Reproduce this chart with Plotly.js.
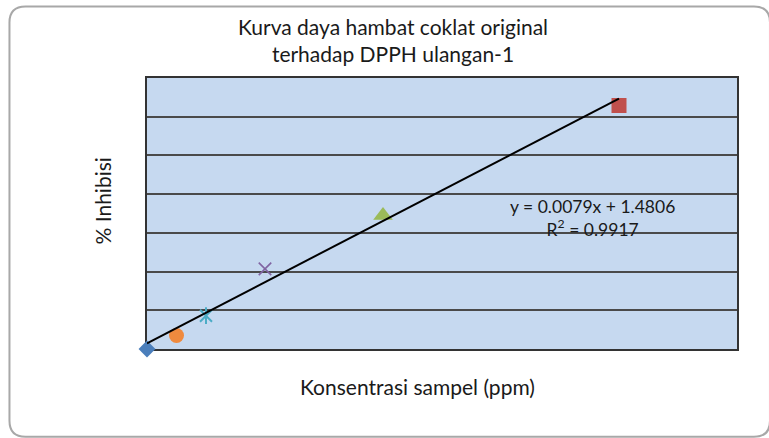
<!DOCTYPE html>
<html>
<head>
<meta charset="utf-8">
<script src="https://cdn.plot.ly/plotly-3.0.1.min.js"></script>
<style>
  html, body { margin: 0; padding: 0; background: #ffffff; }
  #chart { width: 769px; height: 438px; }
</style>
</head>
<body>
<div id="chart"></div>
<script>
// Sample concentrations (ppm) and measured inhibition (%)
const concentrations = [0, 500, 1000, 2000, 4000, 8000];
const inhibitions = [0, 3.5, 8.6, 20.7, 34.5, 62.9];

// Linear trendline reported for the series
const slope = 0.0079;
const intercept = 1.4806;
const rSquared = 0.9917;

// Marker look for each sample (one series per sample)
const markerStyles = [
  { symbol: 'diamond',     size: 13, color: '#4a7ebb', width: 0 },
  { symbol: 'circle',      size: 15, color: '#ef8a3e', width: 0 },
  { symbol: 'x-thin-open', size: 12, color: '#4bacc6', width: 2, extra: 'line-ns-open' },
  { symbol: 'x-thin-open', size: 12.5, color: '#8064a2', width: 1.6 },
  { symbol: 'triangle-up', size: 17, color: '#9bbb59', width: 0 },
  { symbol: 'square',      size: 15, color: '#c0504d', width: 0 }
];

const FONT = 'Lato, "Open Sans", sans-serif';
const TEXT = '#1a1a1a';

const traces = [];
concentrations.forEach((c, i) => {
  const s = markerStyles[i];
  const marker = { symbol: s.symbol, size: s.size, color: s.color };
  if (s.width) marker.line = { color: s.color, width: s.width };
  traces.push({
    type: 'scatter', mode: 'markers', x: [c], y: [inhibitions[i]],
    marker: marker, cliponaxis: false, showlegend: false, hoverinfo: 'skip'
  });
  if (s.extra) {
    // vertical stroke completing the star marker
    traces.push({
      type: 'scatter', mode: 'markers', x: [c], y: [inhibitions[i]],
      marker: { symbol: s.extra, size: s.size, color: s.color, line: { color: s.color, width: s.width } },
      cliponaxis: false, showlegend: false, hoverinfo: 'skip'
    });
  }
});

// Trendline across the sampled range
const xMin = Math.min(...concentrations);
const xMax = Math.max(...concentrations);
traces.push({
  type: 'scatter', mode: 'lines',
  x: [xMin, xMax],
  y: [slope * xMin + intercept, slope * xMax + intercept],
  line: { color: '#000000', width: 2 },
  cliponaxis: false, showlegend: false, hoverinfo: 'skip'
});

const equationText = 'y = ' + slope.toFixed(4) + 'x + ' + intercept.toFixed(4) +
  '<br>R<sup>2</sup> = ' + rSquared.toFixed(4);

// Rounded outer frame of the chart area, in paper units of the plot box
const L = 147, T = 78, W = 590, H = 271;
const px = v => ((v - L) / W).toFixed(4);
const py = v => ((T + H - v) / H).toFixed(4);
const fl = 9.5, ft = 6.5, fr = 770, fb = 436.8, rad = 16;
const framePath =
  'M' + px(fl) + ',' + py(ft + rad) +
  ' Q' + px(fl) + ',' + py(ft) + ' ' + px(fl + rad) + ',' + py(ft) +
  ' L' + px(fr - rad) + ',' + py(ft) +
  ' Q' + px(fr) + ',' + py(ft) + ' ' + px(fr) + ',' + py(ft + rad) +
  ' L' + px(fr) + ',' + py(fb - rad) +
  ' Q' + px(fr) + ',' + py(fb) + ' ' + px(fr - rad) + ',' + py(fb) +
  ' L' + px(fl + rad) + ',' + py(fb) +
  ' Q' + px(fl) + ',' + py(fb) + ' ' + px(fl) + ',' + py(fb - rad) + ' Z';

const layout = {
  width: 769, height: 438,
  margin: { l: L, r: 769 - L - W, t: T, b: 438 - T - H, pad: 0 },
  paper_bgcolor: '#ffffff',
  plot_bgcolor: '#c6d9f0',
  font: { family: FONT, color: TEXT },
  title: {
    text: 'Kurva daya hambat coklat original<br>terhadap DPPH ulangan-1',
    font: { family: FONT, size: 21, color: TEXT },
    xref: 'container', x: 393 / 769, xanchor: 'center',
    yref: 'container', y: 1 - 35 / 438, yanchor: 'top'
  },
  xaxis: {
    range: [0, 10000], showgrid: false, zeroline: false,
    showticklabels: false, ticks: '',
    showline: true, mirror: true, linecolor: '#333333', linewidth: 2.2,
    layer: 'below traces', fixedrange: true
  },
  yaxis: {
    range: [0, 70], dtick: 10, showgrid: true, gridcolor: '#4a4a4a', gridwidth: 2,
    zeroline: false, showticklabels: false, ticks: '',
    showline: true, mirror: true, linecolor: '#333333', linewidth: 2.2,
    layer: 'below traces', fixedrange: true
  },
  shapes: [{
    type: 'path', xref: 'paper', yref: 'paper', path: framePath,
    line: { color: '#a8a8a8', width: 2 }, fillcolor: 'rgba(0,0,0,0)', layer: 'below'
  }],
  annotations: [
    {
      text: 'Konsentrasi sampel (ppm)', showarrow: false,
      xref: 'paper', yref: 'paper', x: (417 - L) / W, y: (T + H - 386) / H,
      xanchor: 'center', yanchor: 'middle',
      font: { family: FONT, size: 21, color: TEXT }
    },
    {
      text: '% Inhibisi', showarrow: false, textangle: -90,
      xref: 'paper', yref: 'paper', x: (101.5 - L) / W, y: (T + H - 201) / H,
      xanchor: 'center', yanchor: 'middle',
      font: { family: FONT, size: 21, color: TEXT }
    },
    {
      text: equationText, showarrow: false, align: 'center',
      xref: 'paper', yref: 'paper', x: (592 - L) / W, y: (T + H - 218) / H,
      xanchor: 'center', yanchor: 'middle',
      font: { family: FONT, size: 17.5, color: TEXT }
    }
  ]
};

Plotly.newPlot('chart', traces, layout, { displayModeBar: false, staticPlot: true });
</script>
</body>
</html>
